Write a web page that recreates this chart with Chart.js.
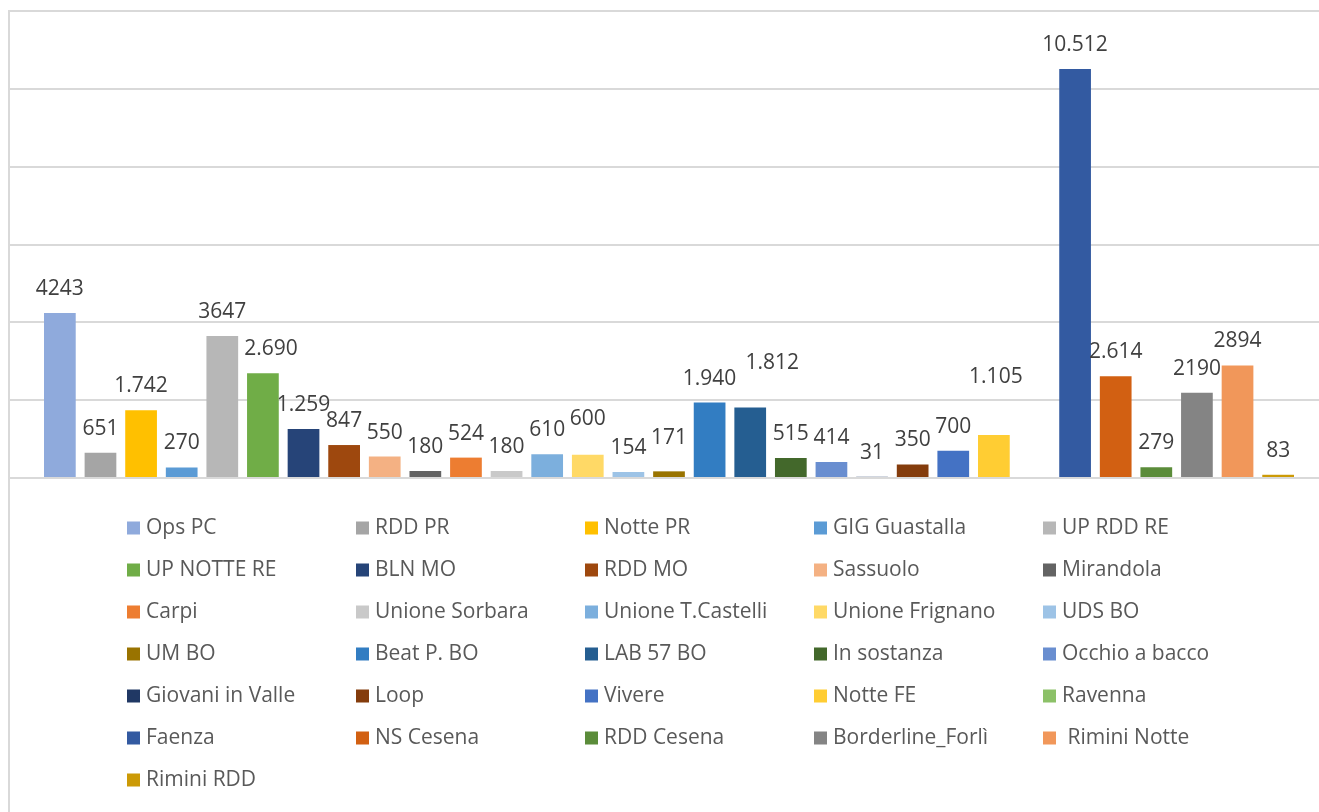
<!DOCTYPE html>
<html lang="it">
<head>
<meta charset="utf-8">
<title>Utenti per progetto</title>
<script src="https://cdn.jsdelivr.net/npm/chart.js@4/dist/chart.umd.min.js"></script>
<style>
  html, body { margin: 0; padding: 0; background: #ffffff; overflow: hidden; }
  #wrap { width: 1340px; height: 812px; }
</style>
</head>
<body>
<div id="wrap"><canvas id="chart" width="1340" height="812"></canvas></div>
<script>
// Projects (one series each) and their totals
const seriesNames = [
  'Ops PC', 'RDD PR', 'Notte PR', 'GIG Guastalla', 'UP RDD RE',
  'UP NOTTE RE', 'BLN MO', 'RDD MO', 'Sassuolo', 'Mirandola',
  'Carpi', 'Unione Sorbara', 'Unione T.Castelli', 'Unione Frignano', 'UDS BO',
  'UM BO', 'Beat P. BO', 'LAB 57 BO', 'In sostanza', 'Occhio a bacco',
  'Giovani in Valle', 'Loop', 'Vivere', 'Notte FE', 'Ravenna',
  'Faenza', 'NS Cesena', 'RDD Cesena', 'Borderline_Forlì', ' Rimini Notte',
  'Rimini RDD'
];

const seriesValues = [
  4243, 651, 1742, 270, 3647,
  2690, 1259, 847, 550, 180,
  524, 180, 610, 600, 154,
  171, 1940, 1812, 515, 414,
  31, 350, 700, 1105, null,
  10512, 2614, 279, 2190, 2894,
  83
];

const seriesColors = [
  '#8FAADC', '#A5A5A5', '#FFC000', '#5B9BD5', '#B7B7B7',
  '#70AD47', '#264478', '#9E480E', '#F4B183', '#636363',
  '#ED7D31', '#C9C9C9', '#7CAFDD', '#FFD966', '#9DC3E6',
  '#997300', '#327DC2', '#255E91', '#43682B', '#698ED0',
  '#203864', '#843C0C', '#4472C4', '#FFCD33', '#8CC168',
  '#335AA1', '#D26012', '#5B8C3A', '#848484', '#F1975A',
  '#CC9A06'
];

// Series whose value label uses a thousands separator
const separatedLabels = [
  'Notte PR', 'UP NOTTE RE', 'BLN MO', 'Beat P. BO', 'LAB 57 BO',
  'Notte FE', 'Faenza', 'NS Cesena'
];

const yAxisMax = 12000;
const yAxisStep = 2000;

function formatValue(name, v) {
  const s = String(v);
  return separatedLabels.includes(name) ? s.replace(/\B(?=(\d{3})+(?!\d))/g, '.') : s;
}

const GRID = '#D9D9D9';
const FONT = '"Open Sans", "Noto Sans", sans-serif';

// Outer frame line on the left edge of the chart
const framePlugin = {
  id: 'frame',
  beforeDraw(chart) {
    const { ctx } = chart;
    ctx.save();
    ctx.strokeStyle = GRID;
    ctx.lineWidth = 2;
    ctx.beginPath();
    ctx.moveTo(9, 10);
    ctx.lineTo(9, chart.height);
    ctx.stroke();
    ctx.restore();
  }
};

// Value labels above each bar
const valueLabelPlugin = {
  id: 'valueLabels',
  afterDatasetsDraw(chart, args, opts) {
    const { ctx } = chart;
    ctx.save();
    ctx.font = opts.font;
    ctx.fillStyle = opts.color;
    ctx.textAlign = 'center';
    ctx.textBaseline = 'alphabetic';
    chart.data.datasets.forEach((ds, i) => {
      const v = ds.data[0];
      if (v === null || v === undefined) return;
      const el = chart.getDatasetMeta(i).data[0];
      const nudge = opts.nudge[ds.label] || [0, 0];
      ctx.fillText(formatValue(ds.label, v), el.x + nudge[0], el.y - opts.gap + nudge[1]);
    });
    ctx.restore();
  }
};

// Legend laid out as a fixed five-column grid under the plot
const gridLegendPlugin = {
  id: 'gridLegend',
  afterDraw(chart, args, opts) {
    const { ctx } = chart;
    ctx.save();
    ctx.font = opts.font;
    ctx.textBaseline = 'middle';
    ctx.textAlign = 'left';
    chart.data.datasets.forEach((ds, i) => {
      const col = i % opts.columns;
      const row = Math.floor(i / opts.columns);
      const x = opts.left + col * opts.colPitch;
      const y = opts.top + row * opts.rowPitch;
      ctx.fillStyle = ds.backgroundColor;
      ctx.fillRect(x, y - opts.box / 2, opts.box, opts.box);
      ctx.fillStyle = opts.color;
      ctx.fillText(ds.label, x + opts.box + opts.textGap, y);
    });
    ctx.restore();
  }
};

const datasets = seriesNames.map((name, i) => ({
  label: name,
  data: [seriesValues[i]],
  backgroundColor: seriesColors[i],
  borderWidth: 0,
  categoryPercentage: 0.9537,
  barPercentage: 0.781
}));

new Chart(document.getElementById('chart'), {
  type: 'bar',
  data: { labels: [''], datasets },
  options: {
    responsive: false,
    animation: false,
    layout: { padding: { left: 9, right: 11, top: 11, bottom: 334 } },
    scales: {
      x: { display: false },
      y: {
        min: 0,
        max: yAxisMax,
        ticks: { display: false, stepSize: yAxisStep },
        border: { display: false },
        grid: { color: GRID, lineWidth: 2, drawTicks: false }
      }
    },
    plugins: {
      legend: { display: false },
      tooltip: { enabled: false },
      valueLabels: {
        font: '21px ' + FONT,
        color: '#404040',
        gap: 18,
        nudge: {
          'UP NOTTE RE': [8, 0],
          'LAB 57 BO': [22, -20],
          'Unione Frignano': [0, -12],
          'UM BO': [0, -9],
          'Notte FE': [2, -34]
        }
      },
      gridLegend: {
        font: '21px ' + FONT,
        color: '#595959',
        columns: 5,
        left: 127,
        colPitch: 229,
        top: 528,
        rowPitch: 42,
        box: 13,
        textGap: 6
      }
    }
  },
  plugins: [framePlugin, valueLabelPlugin, gridLegendPlugin]
});
</script>
</body>
</html>
